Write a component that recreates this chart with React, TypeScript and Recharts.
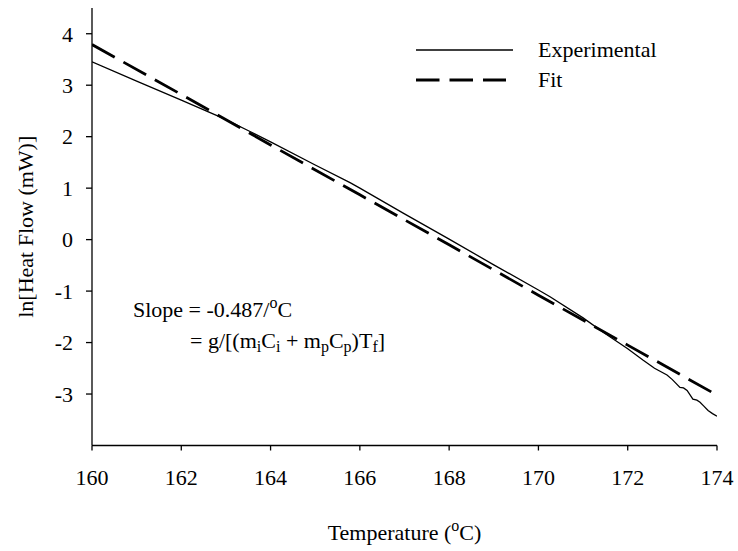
import { LineChart, Line, XAxis, YAxis, Legend, Label } from "recharts"

const xTicks = [160, 162, 164, 166, 168, 170, 172, 174]
const yTicks = [-3, -2, -1, 0, 1, 2, 3, 4]

const seriesNames = ["Experimental", "Fit"]

// experimental curve (noisy near the end)
const expTemp = [
    160, 161, 162, 162.93, 163.54, 164, 165, 165.78, 166, 167, 168, 169, 170, 170.26, 171, 171.5, 172,
    172.34, 172.6, 172.88, 173, 173.17, 173.25, 173.33, 173.46, 173.55, 173.62, 173.7, 173.8, 173.9, 174,
]
const expValue = [
    3.455, 3.08, 2.71, 2.36, 2.1, 1.9, 1.45, 1.107, 1.0, 0.5, 0.01, -0.49, -0.98, -1.11, -1.52, -1.83, -2.12,
    -2.34, -2.5, -2.63, -2.72, -2.87, -2.88, -2.93, -3.1, -3.12, -3.16, -3.23, -3.32, -3.38, -3.43,
]

const fitTemp = [160, 162, 164, 166, 168, 170, 172, 174]
const fitValue = [3.79, 2.82, 1.84, 0.87, -0.1, -1.08, -2.05, -3.02]

const expData = expTemp.map((t, i) => ({ t, v: expValue[i] }))
const fitData = fitTemp.map((t, i) => ({ t, v: fitValue[i] }))

const font = "Liberation Serif, Times New Roman, Times, serif"
const txt = { fontFamily: font, fontSize: 22, fill: "#000" }
const tickStyle = { fill: "#000", fontSize: 22, fontFamily: font, style: { fontFamily: font } }
const axisStroke = { stroke: "#000", strokeWidth: 1.3 }

const XTitle = (props: any) => {
    const { x, y, width } = props.viewBox
    return (
        <text x={x + width / 2} y={y + 94.5} textAnchor="middle" style={txt}>
            Temperature (<tspan fontSize={16} dy={-9}>o</tspan>
            <tspan dy={9}>C)</tspan>
        </text>
    )
}

const YTitle = (props: any) => {
    const { y, height } = props.viewBox
    const cx = 25
    const cy = y + height / 2
    return (
        <text
            x={cx}
            y={cy}
            transform={`rotate(-90, ${cx}, ${cy})`}
            textAnchor="middle"
            dominantBaseline="central"
            style={txt}
        >
            ln[Heat Flow (mW)]
        </text>
    )
}

const LegendBox = () => (
    <svg width={300} height={70} style={{ display: "block" }}>
        <line x1={16} y1={20} x2={113} y2={20} stroke="#000" strokeWidth={1.3} />
        <text x={138} y={27} style={txt}>
            {seriesNames[0]}
        </text>
        <line x1={16} y1={50} x2={106} y2={50} stroke="#000" strokeWidth={2.8} strokeDasharray="23.5 10" />
        <text x={138} y={57} style={txt}>
            {seriesNames[1]}
        </text>
    </svg>
)

export default function App() {
    return (
        <div
            style={{
                position: "absolute",
                left: 0,
                top: 0,
                width: 738,
                height: 551,
                background: "#fff",
                fontFamily: font,
            }}
        >
            <LineChart width={738} height={551} margin={{ top: 8, right: 21, left: 0, bottom: 45.5 }}>
                <XAxis
                    dataKey="t"
                    type="number"
                    domain={[160, 174]}
                    ticks={xTicks}
                    allowDataOverflow
                    height={60}
                    tickSize={5}
                    tickMargin={19}
                    tick={tickStyle}
                    axisLine={axisStroke}
                    tickLine={axisStroke}
                >
                    <Label content={XTitle} />
                </XAxis>
                <XAxis
                    xAxisId="top"
                    orientation="top"
                    type="number"
                    domain={[160, 174]}
                    height={0}
                    tick={false}
                    tickLine={false}
                    axisLine={axisStroke}
                />
                <YAxis
                    type="number"
                    domain={[-4, 4.5]}
                    ticks={yTicks}
                    allowDataOverflow
                    width={92}
                    tickSize={6}
                    tickMargin={13}
                    tick={tickStyle}
                    axisLine={axisStroke}
                    tickLine={axisStroke}
                >
                    <Label content={YTitle} />
                </YAxis>
                <YAxis
                    yAxisId="right"
                    orientation="right"
                    type="number"
                    domain={[-4, 4.5]}
                    width={0}
                    tick={false}
                    tickLine={false}
                    axisLine={axisStroke}
                />
                <Legend
                    layout="horizontal"
                    verticalAlign="middle"
                    align="center"
                    content={LegendBox}
                    wrapperStyle={{ position: "absolute", left: 400, top: 30, width: 300, height: 70 }}
                />
                <Line
                    data={expData}
                    dataKey="v"
                    name={seriesNames[0]}
                    type="linear"
                    dot={false}
                    stroke="#000"
                    strokeWidth={1.3}
                    isAnimationActive={false}
                />
                <Line
                    data={fitData}
                    dataKey="v"
                    name={seriesNames[1]}
                    type="linear"
                    dot={false}
                    stroke="#000"
                    strokeWidth={2.8}
                    strokeDasharray="26 10"
                    isAnimationActive={false}
                />
            </LineChart>
            <svg
                width={738}
                height={551}
                style={{ position: "absolute", left: 0, top: 0, pointerEvents: "none" }}
            >
                <text x={133} y={317} style={txt}>
                    Slope = -0.487/<tspan fontSize={16} dy={-9}>o</tspan>
                    <tspan dy={9}>C</tspan>
                </text>
                <text x={190} y={348} style={txt}>
                    = g/[(m<tspan fontSize={16} dy={4}>i</tspan>
                    <tspan dy={-4}>C</tspan>
                    <tspan fontSize={16} dy={4}>i</tspan>
                    <tspan dy={-4}> + m</tspan>
                    <tspan fontSize={16} dy={4}>p</tspan>
                    <tspan dy={-4}>C</tspan>
                    <tspan fontSize={16} dy={4}>p</tspan>
                    <tspan dy={-4}>)T</tspan>
                    <tspan fontSize={16} dy={4}>f</tspan>
                    <tspan dy={-4}>]</tspan>
                </text>
            </svg>
        </div>
    )
}
